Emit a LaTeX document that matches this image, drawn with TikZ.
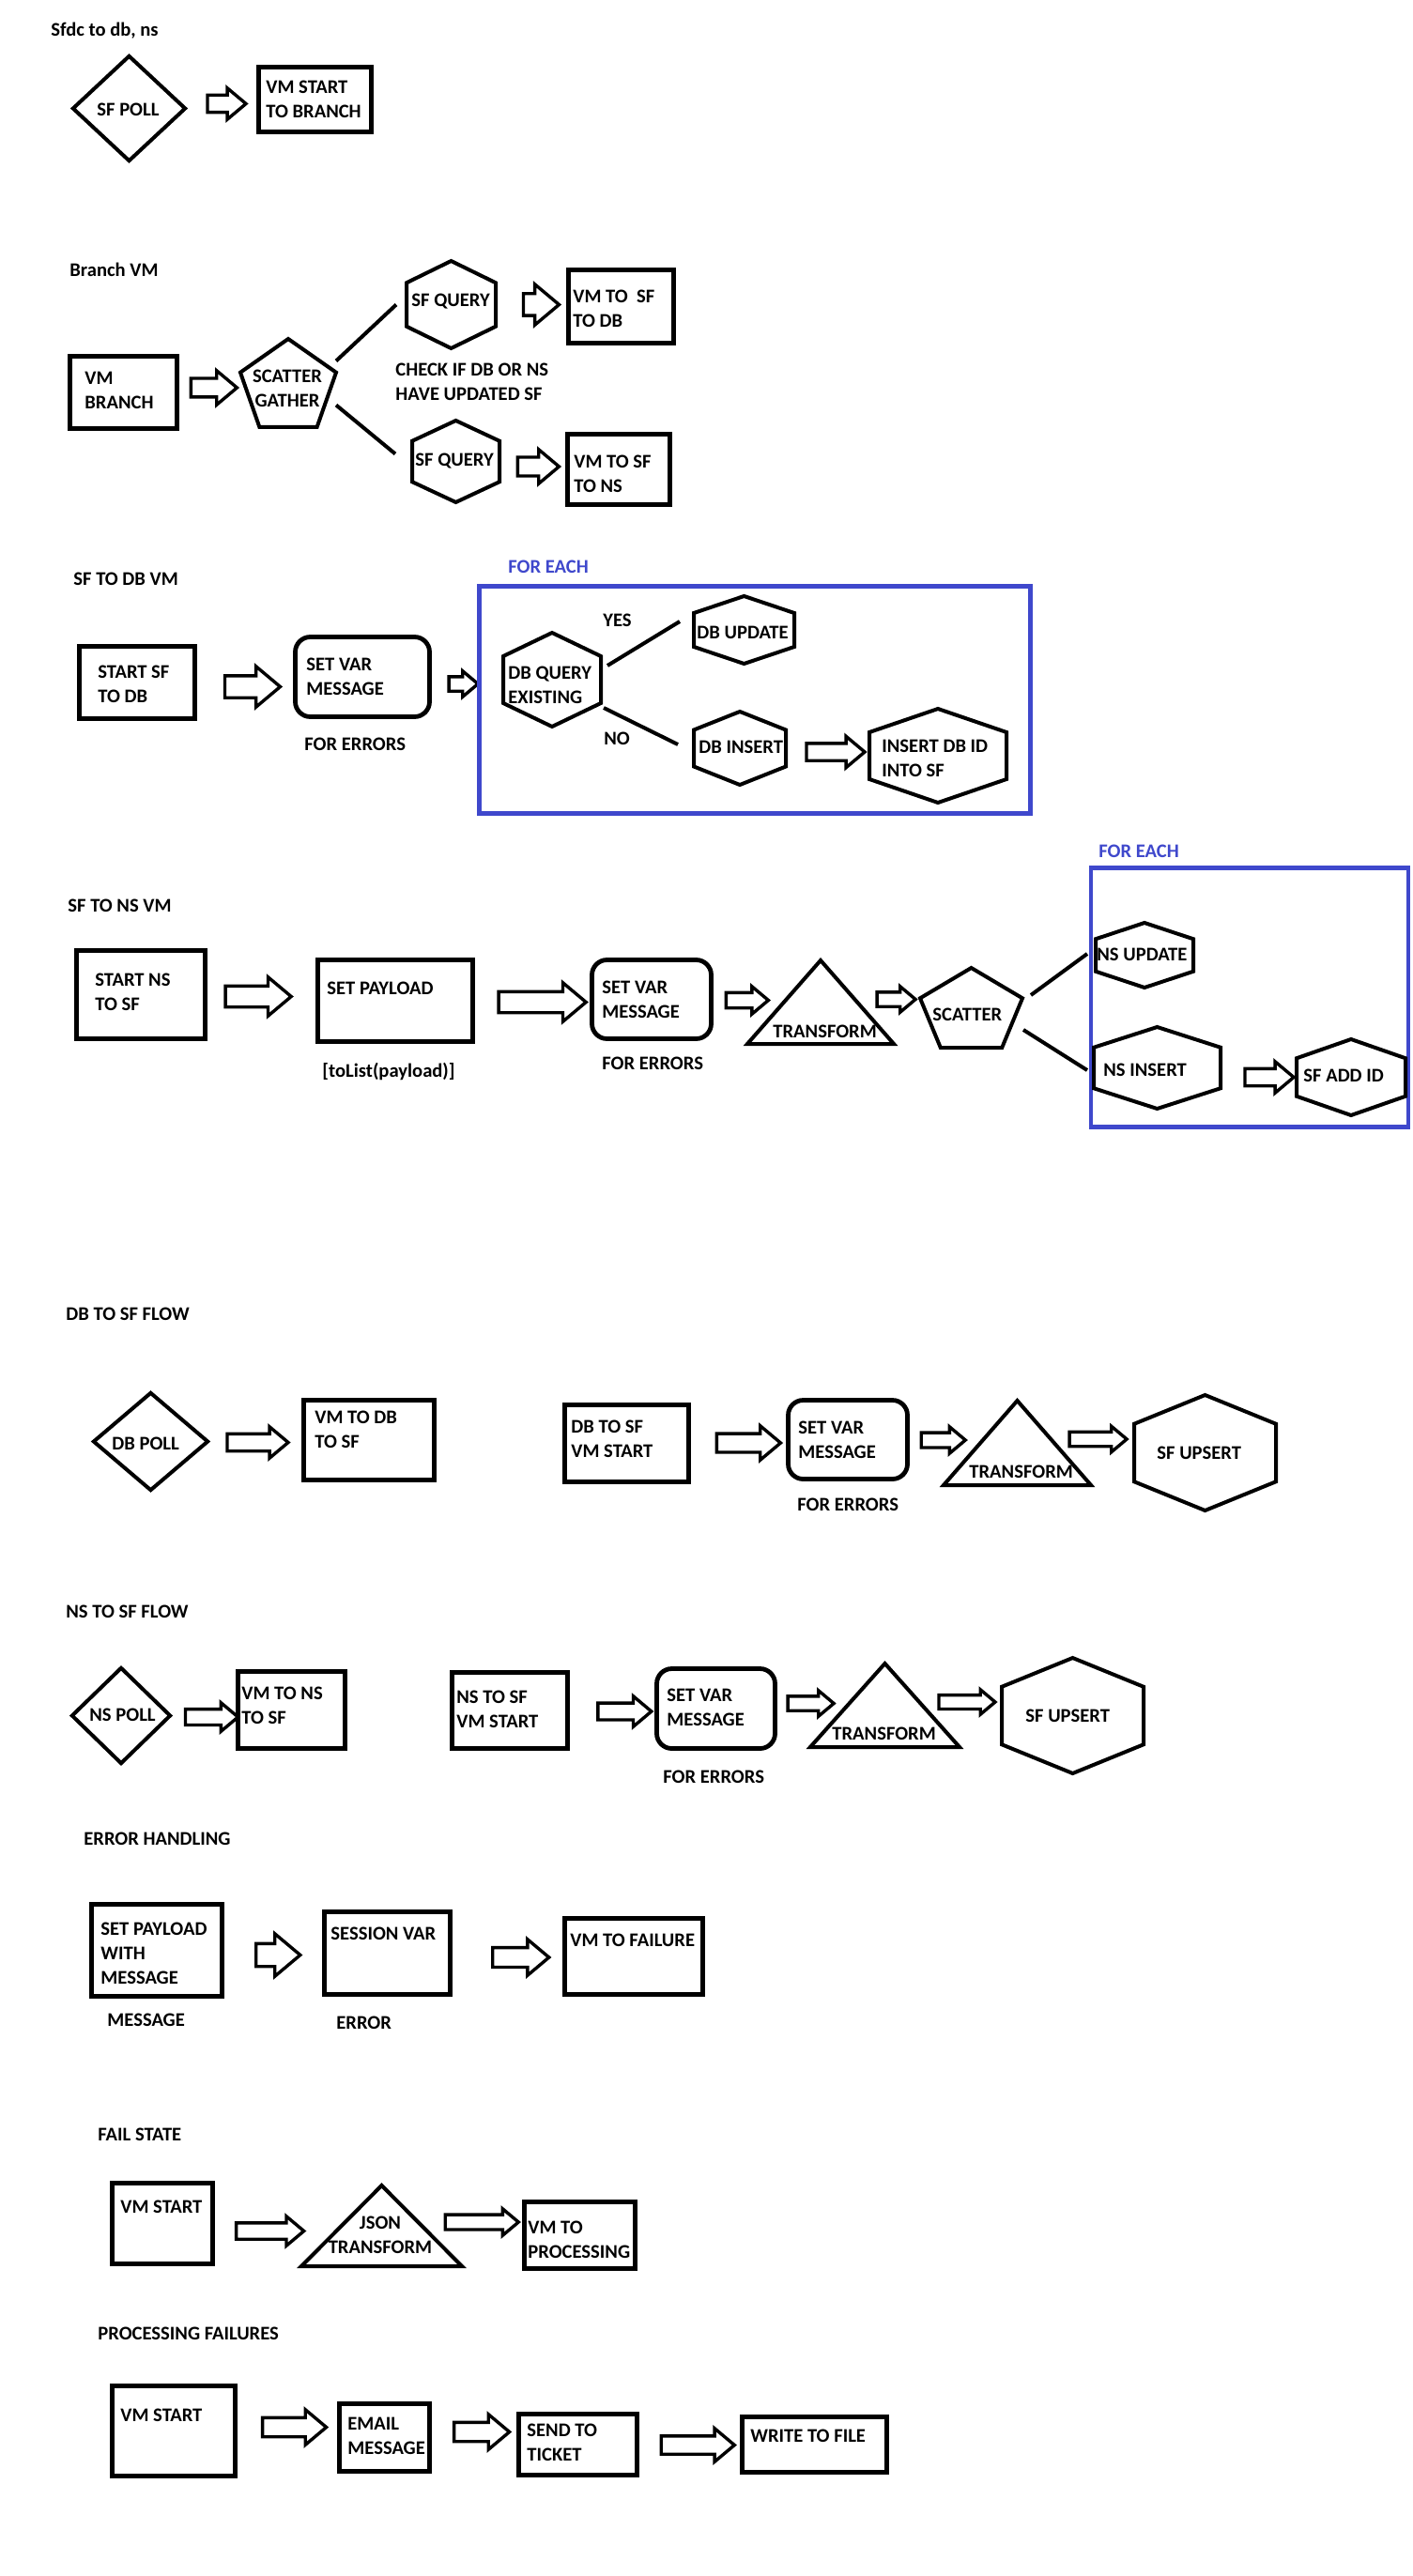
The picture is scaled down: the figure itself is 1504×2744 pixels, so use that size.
\documentclass[tikz,border=0pt]{standalone}
\usepackage{fontspec}
\setmainfont{Carlito}
\usetikzlibrary{shapes.geometric,shapes.arrows,calc}
\definecolor{pblue}{RGB}{63,72,204}
\def\pu{0.5pt}
\tikzset{
  sz/.style 2 args={minimum width=#1*\pu, minimum height=#2*\pu},
  asz/.style 2 args={minimum height=#1*\pu, minimum width=#2*\pu, inner ysep=#2*0.25*\pu,
    single arrow head extend=#2*0.25*\pu},
  box/.style={draw, line width=2.4pt, inner sep=0pt},
  rbox/.style={box, rounded corners=8pt},
  frm/.style={inner sep=0pt, outer sep=0pt},
  dia/.style={diamond, draw, line width=2pt, inner sep=0pt},
  shp/.style={line width=2pt, line join=miter},
  ln/.style={line width=2pt},
  each/.style={draw=pblue, line width=2.3pt, inner sep=0pt},
  barrow/.style={single arrow, draw, line width=1.7pt, inner xsep=0pt, single arrow tip angle=80},
  lbl/.style={font=\bfseries\fontsize{10.3}{13}\selectfont, anchor=west, align=left, inner sep=0pt},
  ctr/.style={lbl, anchor=center, align=center},
  blbl/.style={lbl, text=pblue},
}

\begin{document}
\begin{tikzpicture}[x=0.5pt, y=-0.5pt]
\fill[white] (0,0) rectangle (1504,2744);
\useasboundingbox (0,0) rectangle (1504,2744);

\def\Hex#1{
\draw[shp] (#1.north) -- ($(#1.north east)!.25!(#1.south east)$) -- ($(#1.north east)!.75!(#1.south east)$)
  -- (#1.south) -- ($(#1.north west)!.75!(#1.south west)$) -- ($(#1.north west)!.25!(#1.south west)$) -- cycle;
}
\def\Pent#1{
\draw[shp] (#1.north) -- ($(#1.north east)!.38!(#1.south east)$) -- ($(#1.south east)!.2!(#1.south west)$)
  -- ($(#1.south west)!.2!(#1.south east)$) -- ($(#1.north west)!.38!(#1.south west)$) -- cycle;
}
\def\Tri#1{
\draw[shp] (#1.north) -- (#1.south east) -- (#1.south west) -- cycle;
}

%Sfdc to db, ns
\node[lbl] (h1) at (54,33) {Sfdc to db, ns};
\node[dia, sz={121}{113}] (sfpoll) at (137.5,115.5) {};
\node[lbl] (sfpoll-t) at (103,117) {SF POLL};
\node[barrow, asz={41}{30}] (a1) at (236,110.5) {};
\node[box, sz={120}{69}] (vmst) at (335.5,106) {};
\node[lbl] (vmst-t) at (283,106) {VM START\\TO BRANCH};

%Branch VM
\node[lbl] (h2) at (74,287) {Branch VM};
\node[box, sz={114}{77}] (vmbr) at (131.5,418) {};
\node[lbl] (vmbr-t) at (90,416) {VM\\BRANCH};
\node[barrow, asz={49}{33}] (a2) at (222,413) {};
\node[frm, sz={102}{94}] (sg) at (307,408) {};
\Pent{sg}
\node[ctr] (sg-t) at (306,414) {SCATTER\\GATHER};
\node[frm, sz={95}{93}] (q1) at (480.5,324.5) {};
\Hex{q1}
\node[lbl] (q1-t) at (438,321) {SF QUERY};
\node[barrow, asz={38}{40}] (a3) at (569.5,324.5) {};
\node[box, sz={112}{78}] (vmdb) at (661.5,326.5) {};
\node[lbl] (vmdb-t) at (610,329) {VM TO\ \ SF\\TO DB};
\node[lbl] (check) at (421,407) {CHECK IF DB OR NS\\HAVE UPDATED SF};
\node[frm, sz={93}{87}] (q2) at (485.5,491.5) {};
\Hex{q2}
\node[lbl] (q2-t) at (442,491) {SF QUERY};
\node[barrow, asz={44}{33}] (a4) at (567.5,497) {};
\node[box, sz={109}{75}] (vmns) at (659,500) {};
\node[lbl] (vmns-t) at (611,505) {VM TO SF\\TO NS};
\draw[ln] ($(sg.north east)!.25!(sg.south east)$) -- ($(q1.west)+(-11,0)$);
\draw[ln] ($(sg.north east)!.75!(sg.south east)$) -- ($(q2.west)+(-18,-8)$);

%SF TO DB VM
\node[lbl] (h3) at (78,617) {SF TO DB VM};
\node[box, sz={123}{77}] (stdb) at (146,727) {};
\node[lbl] (stdb-t) at (104,729) {START SF\\TO DB};
\node[barrow, asz={59}{40}] (a5) at (262,731.5) {};
\node[rbox, sz={143}{85}] (svar1) at (386,721) {};
\node[lbl] (svar1-t) at (326,721) {SET VAR\\MESSAGE};
\node[lbl] (err1) at (324,793) {FOR ERRORS};
\node[barrow, asz={31}{24}] (a6) at (489,728.5) {};
\node[each, sz={587.5}{242}] (fe1) at (804,745.5) {};
\node[blbl] (fe1-t) at (541,604) {FOR EACH};
\node[frm, sz={104}{100}] (dbq) at (588,724) {};
\Hex{dbq}
\node[lbl] (dbq-t) at (541,730) {DB QUERY\\EXISTING};
\node[lbl] (yes) at (642,661) {YES};
\node[lbl] (no) at (643,787) {NO};
\node[frm, sz={107}{72}] (dbu) at (792.5,671) {};
\Hex{dbu}
\node[lbl] (dbu-t) at (742,674) {DB UPDATE};
\node[frm, sz={98}{78}] (dbi) at (788,797) {};
\Hex{dbi}
\node[lbl] (dbi-t) at (744,796) {DB INSERT};
\node[barrow, asz={62}{30}] (a7) at (884.5,801) {};
\node[frm, sz={146}{100}] (dbid) at (999,805) {};
\Hex{dbid}
\node[lbl] (dbid-t) at (939,808) {INSERT DB ID\\INTO SF};
\draw[ln] ($(dbq.east)+(7,-15)$) -- ($(dbu.west)+(-15,-9)$);
\draw[ln] ($(dbq.east)+(3,30)$) -- ($(dbi.west)+(-17,-4)$);

%SF TO NS VM
\node[lbl] (h4) at (72,965) {SF TO NS VM};
\node[box, sz={137}{94}] (stns) at (150,1059.5) {};
\node[lbl] (stns-t) at (101,1057) {START NS\\TO SF};
\node[barrow, asz={70}{38}] (a8) at (268.5,1061.5) {};
\node[box, sz={165}{87}] (setpl) at (421,1066) {};
\node[lbl] (setpl-t) at (348,1053) {SET PAYLOAD};
\node[lbl] (tolist) at (343,1141) {[toList(payload)]};
\node[barrow, asz={93}{38}] (a9) at (571,1067.5) {};
\node[rbox, sz={127}{84}] (svar2) at (694,1064.5) {};
\node[lbl] (svar2-t) at (641,1064.5) {SET VAR\\MESSAGE};
\node[lbl] (err2) at (641,1133) {FOR ERRORS};
\node[barrow, asz={45}{26}] (a10) at (791,1065.5) {};
\node[frm, sz={156}{89}] (tr1) at (874,1067.5) {};
\Tri{tr1}
\node[lbl] (tr1-t) at (823,1099) {TRANSFORM};
\node[barrow, asz={41}{24}] (a11) at (950,1064.5) {};
\node[frm, sz={109}{85}] (sc) at (1034.5,1073.5) {};
\Pent{sc}
\node[lbl] (sc-t) at (993,1081) {SCATTER};
\node[each, sz={338}{276}] (fe2) at (1331,1062.5) {};
\node[blbl] (fe2-t) at (1170,907) {FOR EACH};
\node[frm, sz={104}{69}] (nsu) at (1219,1017.5) {};
\Hex{nsu}
\node[lbl] (nsu-t) at (1168,1017) {NS UPDATE};
\node[frm, sz={135}{87}] (nsi) at (1232.5,1137.5) {};
\Hex{nsi}
\node[lbl] (nsi-t) at (1175,1140) {NS INSERT};
\node[barrow, asz={52}{30}] (a12) at (1346.5,1147.5) {};
\node[frm, sz={116}{81}] (sfadd) at (1439,1147.5) {};
\Hex{sfadd}
\node[lbl] (sfadd-t) at (1388,1146) {SF ADD ID};
\draw[ln] ($(sc.east)+(9,-13.5)$) -- ($(nsu.west)+(-9,-1.5)$);
\draw[ln] ($(sc.east)+(1,23.5)$) -- ($(nsi.west)+(-7,2.5)$);

%DB TO SF FLOW
\node[lbl] (h5) at (70,1400) {DB TO SF FLOW};
\node[dia, sz={123}{105}] (dbpoll) at (160.5,1535.5) {};
\node[lbl] (dbpoll-t) at (119,1537.5) {DB POLL};
\node[barrow, asz={65}{30}] (a13) at (269,1536.5) {};
\node[box, sz={139}{85}] (vmdbsf) at (393,1534) {};
\node[lbl] (vmdbsf-t) at (335,1522.5) {VM TO DB\\TO SF};
\node[box, sz={132}{82}] (dbst) at (667.5,1537.5) {};
\node[lbl] (dbst-t) at (608,1533) {DB TO SF\\VM START};
\node[barrow, asz={68}{33}] (a14) at (791.5,1537) {};
\node[rbox, sz={127}{84}] (svar3) at (903,1533.5) {};
\node[lbl] (svar3-t) at (850,1533.5) {SET VAR\\MESSAGE};
\node[lbl] (err3) at (849,1602.5) {FOR ERRORS};
\node[barrow, asz={47}{25}] (a15) at (1000,1534) {};
\node[frm, sz={157}{90}] (tr2) at (1083.5,1537) {};
\Tri{tr2}
\node[lbl] (tr2-t) at (1032,1568) {TRANSFORM};
\node[barrow, asz={61}{24}] (a16) at (1165,1533) {};
\node[frm, sz={151}{123}] (ups1) at (1283.5,1547.5) {};
\Hex{ups1}
\node[lbl] (ups1-t) at (1232,1548) {SF UPSERT};

%NS TO SF FLOW
\node[lbl] (h6) at (70,1717) {NS TO SF FLOW};
\node[dia, sz={106}{103}] (nspoll) at (129,1827.5) {};
\node[lbl] (nspoll-t) at (95,1827) {NS POLL};
\node[barrow, asz={56}{27}] (a17) at (220.5,1829) {};
\node[box, sz={114}{82}] (vmnssf) at (310.5,1821.5) {};
\node[lbl] (vmnssf-t) at (257,1817) {VM TO NS\\TO SF};
\node[box, sz={123}{81}] (nsst) at (543,1822) {};
\node[lbl] (nsst-t) at (486,1821) {NS TO SF\\VM START};
\node[barrow, asz={57}{29}] (a18) at (660,1823) {};
\node[rbox, sz={126}{85}] (svar4) at (762.5,1820) {};
\node[lbl] (svar4-t) at (710,1819) {SET VAR\\MESSAGE};
\node[lbl] (err4) at (706,1893) {FOR ERRORS};
\node[barrow, asz={49}{24}] (a19) at (859,1814.5) {};
\node[frm, sz={159}{89}] (tr3) at (942.5,1816.5) {};
\Tri{tr3}
\node[lbl] (tr3-t) at (886,1847) {TRANSFORM};
\node[barrow, asz={60}{23}] (a20) at (1025.5,1813) {};
\node[frm, sz={151}{123}] (ups2) at (1142.5,1827.5) {};
\Hex{ups2}
\node[lbl] (ups2-t) at (1092,1828) {SF UPSERT};

%ERROR HANDLING
\node[lbl] (h7) at (89,1959) {ERROR HANDLING};
\node[box, sz={139}{98}] (errpl) at (167,2077.5) {};
\node[lbl] (errpl-t) at (107,2080.5) {SET PAYLOAD\\WITH\\MESSAGE};
\node[lbl] (msg) at (114,2152) {MESSAGE};
\node[barrow, asz={47}{42}] (a21) at (289,2082.5) {};
\node[box, sz={134}{88}] (sess) at (412.5,2080.5) {};
\node[lbl] (sess-t) at (352,2060) {SESSION VAR};
\node[lbl] (errlbl) at (358,2155) {ERROR};
\node[barrow, asz={60}{35}] (a22) at (548.5,2085) {};
\node[box, sz={147}{81}] (fail) at (675,2084) {};
\node[lbl] (fail-t) at (607,2067) {VM TO FAILURE};

%FAIL STATE
\node[lbl] (h8) at (104,2274) {FAIL STATE};
\node[box, sz={107}{86}] (fst) at (173,2368.5) {};
\node[lbl] (fst-t) at (128,2351) {VM START};
\node[barrow, asz={72}{28}] (a23) at (282.5,2376.5) {};
\node[frm, sz={171}{86}] (json) at (406.5,2371) {};
\Tri{json}
\node[ctr] (json-t) at (405,2380.5) {JSON\\TRANSFORM};
\node[barrow, asz={78}{25}] (a24) at (508.5,2367) {};
\node[box, sz={118}{71}] (proc) at (617.5,2381) {};
\node[lbl] (proc-t) at (562,2386) {VM TO\\PROCESSING};

%PROCESSING FAILURES
\node[lbl] (h9) at (104,2486) {PROCESSING FAILURES};
\node[box, sz={131}{96}] (pst) at (185,2589.5) {};
\node[lbl] (pst-t) at (128,2573) {VM START};
\node[barrow, asz={68}{34}] (a25) at (307.5,2585.5) {};
\node[box, sz={96}{72}] (email) at (409.5,2596.5) {};
\node[lbl] (email-t) at (370,2595) {EMAIL\\MESSAGE};
\node[barrow, asz={59}{34}] (a26) at (507,2590.5) {};
\node[box, sz={126}{65}] (tick) at (615.5,2604) {};
\node[lbl] (tick-t) at (561,2601.5) {SEND TO\\TICKET};
\node[barrow, asz={78}{32}] (a27) at (737.5,2604.5) {};
\node[box, sz={154}{59}] (wfile) at (867.5,2604) {};
\node[lbl] (wfile-t) at (799,2595) {WRITE TO FILE};
\end{tikzpicture}
\end{document}
